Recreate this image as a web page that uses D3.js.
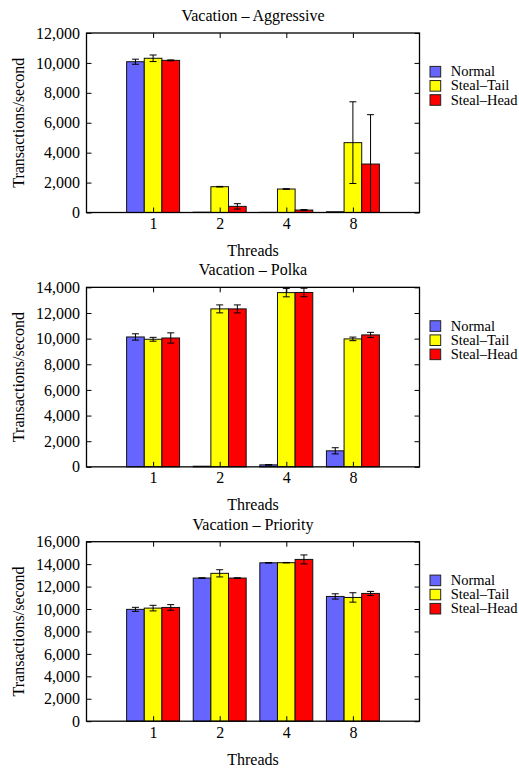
<!DOCTYPE html>
<html>
<head>
<meta charset="utf-8">
<title>Vacation</title>
<script src="https://cdn.jsdelivr.net/npm/d3@7"></script>
<style>
  body { margin: 0; background: #fff; }
  text { font-family: "Liberation Serif", "Times New Roman", serif; fill: #000; }
</style>
</head>
<body>
<svg width="519" height="769" id="mainsvg"></svg>
<script>
const threads = ['1', '2', '4', '8'];
const seriesNames = ['Normal', 'Steal–Tail', 'Steal–Head'];
const seriesColors = ['#6666ff', '#ffff00', '#ff0000'];
const panelTitles = ['Vacation – Aggressive', 'Vacation – Polka', 'Vacation – Priority'];
const panelMax = [12000, 14000, 16000];

// rows: Normal, Steal-Tail, Steal-Head; columns: threads 1, 2, 4, 8
const aggressiveMean = [
  [10080, 20, 10, 50],
  [10310, 1725, 1570, 4670],
  [10170, 410, 165, 3240]
];
const aggressiveErr = [
  [170, 0, 0, 0],
  [220, 20, 20, 2730],
  [30, 180, 30, 3300]
];
const polkaMean = [
  [10130, 50, 155, 1250],
  [9950, 12320, 13590, 9980],
  [10050, 12320, 13600, 10290]
];
const polkaErr = [
  [245, 0, 20, 240],
  [150, 310, 330, 140],
  [400, 310, 330, 200]
];
const priorityMean = [
  [9970, 12760, 14120, 11120],
  [10080, 13180, 14130, 11030],
  [10140, 12760, 14420, 11390]
];
const priorityErr = [
  [180, 20, 20, 235],
  [250, 320, 20, 420],
  [250, 20, 400, 180]
];

const panelMeans = [aggressiveMean, polkaMean, priorityMean];
const panelErrs = [aggressiveErr, polkaErr, priorityErr];

const svg = d3.select('#mainsvg');
const width = +svg.attr('width');
const margin = { left: 86.5, right: 99.5 };
const innerWidth = width - margin.left - margin.right;
const innerHeight = 179.5;
const firstTop = 33;
const panelStep = 254.35;
const barW = 0.265; // in category units
const capW = 7;

const xScale = d3.scaleLinear().domain([-1, threads.length]).range([0, innerWidth]);

const render_panel = function (p) {
    const g = svg.append('g')
        .attr('transform', `translate(${margin.left}, ${firstTop + p * panelStep})`);
    const yScale = d3.scaleLinear().domain([0, panelMax[p]]).range([innerHeight, 0]).clamp(true);

    const rows = [];
    panelMeans[p].forEach((vals, s) => {
        vals.forEach((v, t) => {
            rows.push({ s: s, t: t, v: v, e: panelErrs[p][s][t] });
        });
    });
    const cx = d => xScale(d.t + (d.s - 1) * barW);
    const bw = xScale(barW) - xScale(0);

    g.selectAll('.bar').data(rows).enter().append('rect')
        .attr('class', 'bar')
        .attr('x', d => cx(d) - bw / 2)
        .attr('width', bw)
        .attr('y', d => yScale(d.v))
        .attr('height', d => innerHeight - yScale(d.v))
        .attr('fill', d => seriesColors[d.s])
        .attr('stroke', '#111')
        .attr('stroke-width', 1);

    // error bars
    const eb = g.selectAll('.err').data(rows.filter(d => d.e > 0)).enter().append('g')
        .attr('class', 'err')
        .attr('stroke', '#000')
        .attr('stroke-width', 1);
    eb.append('line')
        .attr('x1', cx).attr('x2', cx)
        .attr('y1', d => yScale(d.v - d.e))
        .attr('y2', d => yScale(d.v + d.e));
    eb.append('line')
        .attr('x1', d => cx(d) - capW / 2).attr('x2', d => cx(d) + capW / 2)
        .attr('y1', d => yScale(d.v + d.e)).attr('y2', d => yScale(d.v + d.e));
    eb.filter(d => d.v - d.e > 0).append('line')
        .attr('x1', d => cx(d) - capW / 2).attr('x2', d => cx(d) + capW / 2)
        .attr('y1', d => yScale(d.v - d.e)).attr('y2', d => yScale(d.v - d.e));

    // axes, ticks pointing inward on all four sides
    const yTicks = d3.range(0, panelMax[p] + 1, 2000);
    const xTicks = d3.range(threads.length);
    const left = g.append('g').call(d3.axisLeft(yScale).tickValues(yTicks)
        .tickSize(-5).tickPadding(6.5).tickFormat(d3.format(',')));
    const right = g.append('g').attr('transform', `translate(${innerWidth}, 0)`)
        .call(d3.axisRight(yScale).tickValues(yTicks).tickSize(-5).tickFormat(''));
    const bottom = g.append('g').attr('transform', `translate(0, ${innerHeight})`)
        .call(d3.axisBottom(xScale).tickValues(xTicks).tickSize(-5).tickPadding(5)
            .tickFormat(i => threads[i]));
    const top = g.append('g')
        .call(d3.axisTop(xScale).tickValues(xTicks).tickSize(-5).tickFormat(''));
    [left, right, bottom, top].forEach(a => {
        a.select('.domain').remove();
        a.selectAll('.tick line').attr('stroke', '#000').attr('stroke-width', 1);
        a.attr('font-family', null).attr('font-size', null);
        a.selectAll('.tick text').attr('font-size', '16px').attr('fill', '#000');
    });

    g.append('rect')
        .attr('width', innerWidth).attr('height', innerHeight)
        .attr('fill', 'none').attr('stroke', '#000').attr('stroke-width', 1.3);

    g.append('text')
        .attr('x', innerWidth / 2).attr('y', -12)
        .attr('text-anchor', 'middle').attr('font-size', '16px')
        .text(panelTitles[p]);
    g.append('text')
        .attr('x', innerWidth / 2).attr('y', innerHeight + 43.5)
        .attr('text-anchor', 'middle').attr('font-size', '16px')
        .text('Threads');
    g.append('text')
        .attr('transform', `translate(-62.5, ${innerHeight / 2}) rotate(-90)`)
        .attr('text-anchor', 'middle').attr('font-size', '16px')
        .text('Transactions/second');

    // legend
    const lg = g.selectAll('.legend').data(seriesNames).enter().append('g')
        .attr('class', 'legend')
        .attr('transform', (d, i) => `translate(${innerWidth + 10.5}, ${33.4 + i * 14.15})`);
    lg.append('rect')
        .attr('width', 10.7).attr('height', 10.6)
        .attr('fill', (d, i) => seriesColors[i])
        .attr('stroke', '#222').attr('stroke-width', 1);
    lg.append('text')
        .attr('x', 20.7).attr('y', 9.9)
        .attr('font-size', '14.5px')
        .text(d => d);
};

panelTitles.forEach((t, p) => render_panel(p));
</script>
</body>
</html>
